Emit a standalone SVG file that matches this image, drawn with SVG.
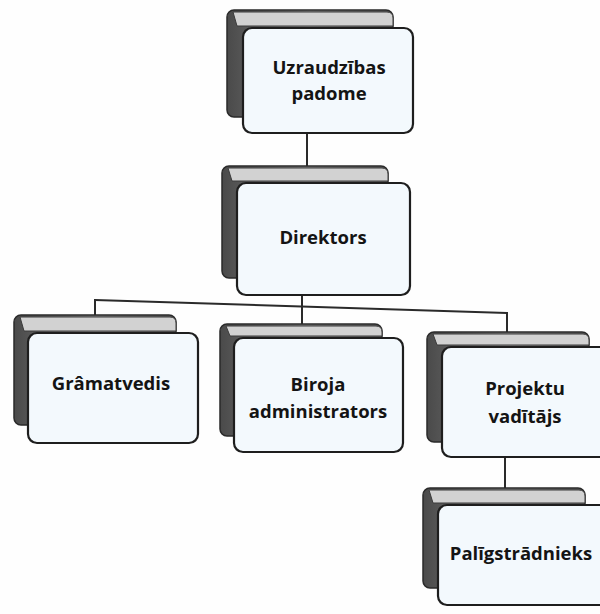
<svg xmlns="http://www.w3.org/2000/svg" width="600" height="614" viewBox="0 0 600 614">
<defs>
<linearGradient id="side" x1="0" y1="0" x2="1" y2="0">
<stop offset="0" stop-color="#4a4a4a"/>
<stop offset="0.5" stop-color="#858585"/>
<stop offset="1" stop-color="#5c5c5c"/>
</linearGradient>
<style>
.bg{fill:#fefefe}
.sh{fill:url(#side);stroke:#2a2a2a;stroke-width:1.5}
.band{fill:#d2d2d2;stroke:#3a3a3a;stroke-width:1}
.card{fill:#f3f9fd;stroke:#1e1e1e;stroke-width:2.2}
.t{font-family:"Open Sans","Noto Sans","DejaVu Sans",sans-serif;font-weight:700;font-size:18.5px;fill:#141414;text-anchor:middle}
.ln{fill:none;stroke:#2a2a2a;stroke-width:2}
</style>
</defs>
<rect class="bg" x="0" y="0" width="600" height="614"/>

<g id="connectors">
<line class="ln" x1="307" y1="133" x2="307" y2="168"/>
<line class="ln" x1="95" y1="300" x2="507" y2="313"/>
<line class="ln" x1="95" y1="299" x2="95" y2="317"/>
<line class="ln" x1="302" y1="295" x2="302" y2="326"/>
<line class="ln" x1="507" y1="312" x2="507" y2="333"/>
<line class="ln" x1="505" y1="457" x2="505" y2="490"/>
</g>

<g id="node-uzraudzibas" transform="translate(243,28)">
<rect class="sh" x="-16" y="-18" width="166" height="107" rx="7"/>
<path class="band" d="M-10,-16 H144 Q150,-16 150,-10 V-2 H-6 Z"/>
<rect class="card" x="0" y="0" width="170" height="105" rx="9"/>
<text class="t" x="86" y="46">Uzraudzības</text>
<text class="t" x="86" y="72">padome</text>
</g>

<g id="node-direktors" transform="translate(237,183)">
<rect class="sh" x="-15" y="-17" width="166" height="112" rx="7"/>
<path class="band" d="M-9,-15 H145 Q151,-15 151,-9 V-2 H-5 Z"/>
<rect class="card" x="0" y="0" width="173" height="112" rx="9"/>
<text class="t" x="86" y="61">Direktors</text>
</g>

<g id="node-gramatvedis" transform="translate(28,333)">
<rect class="sh" x="-14" y="-18" width="162" height="110" rx="7"/>
<path class="band" d="M-8,-16 H142 Q148,-16 148,-10 V-2 H-4 Z"/>
<rect class="card" x="0" y="0" width="170" height="110" rx="9"/>
<text class="t" x="83" y="57">Grâmatvedis</text>
</g>

<g id="node-biroja" transform="translate(234,338)">
<rect class="sh" x="-14" y="-14" width="162" height="112" rx="7"/>
<path class="band" d="M-8,-12 H142 Q148,-12 148,-6 V-2 H-4 Z"/>
<rect class="card" x="0" y="0" width="169" height="114" rx="9"/>
<text class="t" x="84" y="53">Biroja</text>
<text class="t" x="84" y="80">administrators</text>
</g>

<g id="node-projektu" transform="translate(442,347)">
<rect class="sh" x="-15" y="-15" width="162" height="110" rx="7"/>
<path class="band" d="M-9,-13 H141 Q147,-13 147,-7 V-2 H-5 Z"/>
<rect class="card" x="0" y="0" width="172" height="110" rx="9"/>
<text class="t" x="83" y="48">Projektu</text>
<text class="t" x="83" y="76">vadītājs</text>
</g>

<g id="node-paligstradnieks" transform="translate(438,505)">
<rect class="sh" x="-15" y="-17" width="162" height="100" rx="7"/>
<path class="band" d="M-9,-15 H141 Q147,-15 147,-9 V-2 H-5 Z"/>
<rect class="card" x="0" y="0" width="172" height="100" rx="9"/>
<text class="t" x="83" y="55">Palīgstrādnieks</text>
</g>
</svg>
